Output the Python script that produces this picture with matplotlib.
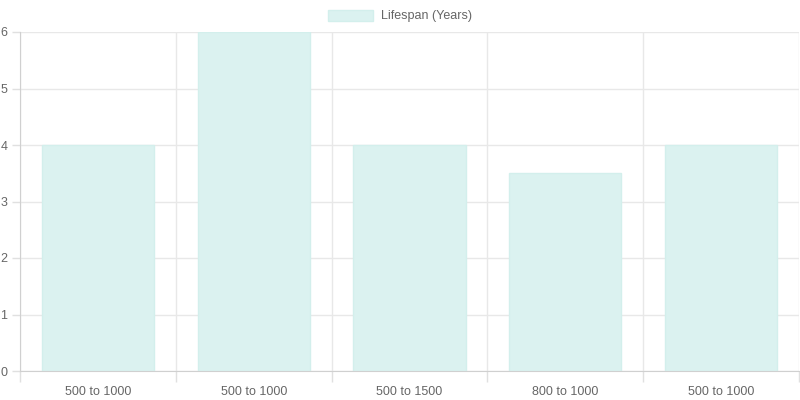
import matplotlib.pyplot as plt
import numpy as np

# data
categories = ['500 to 1000', '500 to 1000', '500 to 1500', '800 to 1000', '500 to 1000']
lifespan = [4, 6, 4, 3.5, 4]
y_ticks = [0, 1, 2, 3, 4, 5, 6]

plt.rcParams['font.family'] = ['Liberation Sans', 'DejaVu Sans']

fig = plt.figure(figsize=(8, 4), dpi=100)
ax = fig.add_axes([20 / 800, 1 - 371 / 400, 779 / 800, 339 / 400])

x = np.arange(len(categories))
ax.bar(x, lifespan, width=0.72, color='#dbf2f0', edgecolor='#d3efec',
       linewidth=1, label='Lifespan (Years)', zorder=2)

ax.set_xlim(-0.5, len(categories) - 0.5)
ax.set_ylim(0, 6)
ax.set_yticks(y_ticks)

# grid lines sit between categories like chart.js
ax.set_xticks(np.arange(len(categories) + 1) - 0.5, minor=False)
ax.set_xticklabels([''] * (len(categories) + 1))
ax.set_xticks(x, minor=True)
ax.set_xticklabels(categories, minor=True)
ax.tick_params(axis='x', which='major', length=8, color='#e0e0e0', width=1)
ax.tick_params(axis='x', which='minor', length=0, pad=11, labelsize=9, labelcolor='#666666')
ax.tick_params(axis='y', length=6, color='#e0e0e0', width=1, pad=3,
               labelsize=9, labelcolor='#666666')

ax.grid(True, which='major', color='#e8e8e8', linewidth=1, zorder=0)
for side in ['top', 'right']:
    ax.spines[side].set_visible(False)
ax.spines['left'].set_color('#d0d0d0')
ax.spines['bottom'].set_color('#d0d0d0')

fig.legend(loc='center', bbox_to_anchor=(0.5, 1 - 16 / 400), frameon=False,
           fontsize=9, labelcolor='#666666', handlelength=3.6, handleheight=1.0,
           handletextpad=0.6)

fig.savefig('out.png', dpi=100)
